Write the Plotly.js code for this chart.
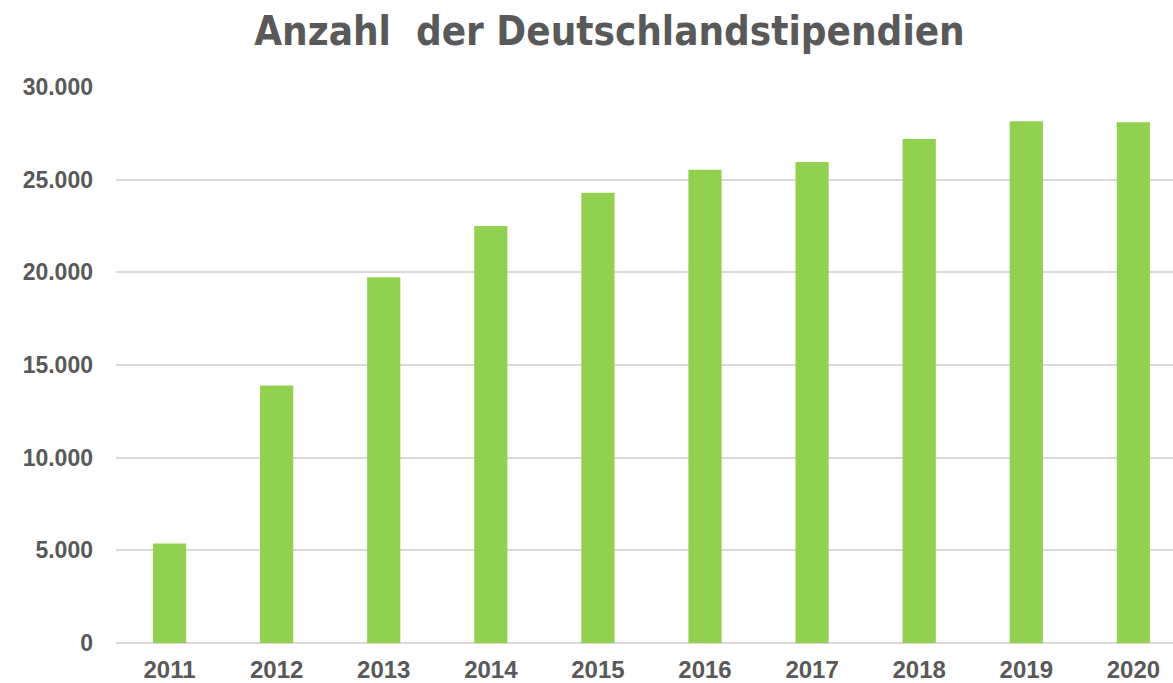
<!DOCTYPE html>
<html>
<head>
<meta charset="utf-8">
<script src="https://cdn.plot.ly/plotly-3.0.1.min.js"></script>
<style>html,body{margin:0;padding:0;background:#fff;}#chart{width:1173px;height:683px;}</style>
</head>
<body>
<div id="chart"></div>
<script>
const years = ["2011","2012","2013","2014","2015","2016","2017","2018","2019","2020"];
const stipendien = [5375, 13896, 19740, 22500, 24300, 25530, 25950, 27200, 28150, 28100];
const yTicks = [0, 5000, 10000, 15000, 20000, 25000, 30000];

const trace = {
  type: 'bar',
  x: years,
  y: stipendien,
  marker: {color: '#92D050', line: {width: 0}},
  width: 0.31,
  hoverinfo: 'x+y'
};

const layout = {
  width: 1173,
  height: 683,
  margin: {l: 116, r: 0, t: 87, b: 40},
  paper_bgcolor: '#ffffff',
  plot_bgcolor: '#ffffff',
  separators: ',.',
  showlegend: false,
  title: {
    text: 'Anzahl  der Deutschlandstipendien',
    font: {family: '"DejaVu Sans Condensed", "Liberation Sans Narrow", sans-serif', size: 40, color: '#595959', weight: 700, stretch: 'condensed'},
    xref: 'paper', x: 0.5 - (644 - 609) / 1057, xanchor: 'center',
    yref: 'container', y: 1 - 31 / 683, yanchor: 'middle'
  },
  xaxis: {
    type: 'category',
    range: [-0.5, 9.37],
    showgrid: false,
    showline: false,
    zeroline: false,
    ticks: '',
    tickfont: {family: '"Liberation Sans", Arial, sans-serif', size: 24, color: '#595959', weight: 700},
    ticklabelstandoff: 10
  },
  yaxis: {
    range: [0, 30000],
    tickvals: yTicks,
    tickformat: ',d',
    showgrid: true,
    gridcolor: '#d9d9d9',
    gridwidth: 2,
    zeroline: true,
    zerolinecolor: '#d9d9d9',
    zerolinewidth: 2,
    showline: false,
    ticks: '',
    ticklabelstandoff: 22,
    tickfont: {family: '"Liberation Sans", Arial, sans-serif', size: 23, color: '#595959', weight: 700}
  }
};

Plotly.newPlot('chart', [trace], layout, {displayModeBar: false, staticPlot: true});
</script>
</body>
</html>
